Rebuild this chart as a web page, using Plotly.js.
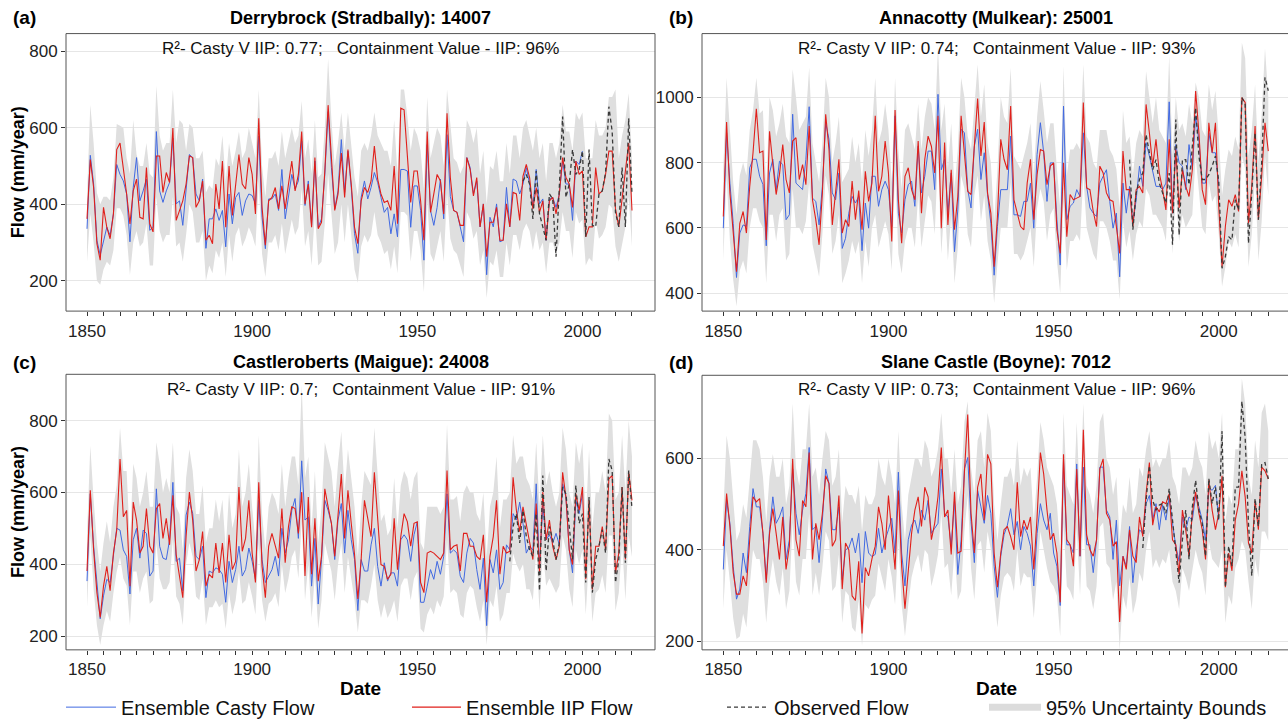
<!DOCTYPE html>
<html><head><meta charset="utf-8">
<script src="https://cdn.plot.ly/plotly-3.0.1.min.js"></script>
<style>html,body{margin:0;padding:0;background:#fff;}#chart{width:1288px;height:727px;}</style>
</head><body><div id="chart"></div>
<script>
const FIRST_YEAR = 1850;
const LAST_YEAR = 2015;
const CASTY_LAST_YEAR = 2000;

// ---------- Panel (a) Derrybrock (Stradbally): 14007 ----------
const iipA = [
362,517,444,297,254,392,340,310,375,543,
560,496,427,349,435,466,366,362,496,349,
328,526,526,431,483,457,599,358,384,409,
453,526,522,392,409,461,306,319,297,453,
388,513,340,500,371,453,530,453,440,522,
478,375,625,392,293,409,418,444,388,448,
388,453,513,435,478,590,401,453,340,522,
336,353,487,659,513,384,427,534,418,543,
453,340,297,409,444,431,461,552,466,427,
405,409,384,500,349,651,647,530,405,487,
487,409,306,590,379,427,478,461,375,638,
470,384,379,345,345,522,491,422,470,341,
401,263,353,353,392,306,306,401,341,431,
427,358,474,504,470,388,444,379,409,306,
409,418,375,427,522,470,453,392,513,478,
487,315,341,341,496,427,435,478,539,539,
388,341,409,478,560,384];
const castyA = [
336,528,453,306,267,306,340,319,375,504,
478,461,427,302,444,522,409,435,466,332,
340,590,435,405,435,457,573,401,409,345,
444,530,522,427,409,466,285,362,362,388,
358,384,289,427,349,418,431,371,409,427,
423,401,578,366,284,414,414,427,384,491,
362,427,478,440,461,565,397,461,345,513,
340,362,478,642,496,388,435,569,431,539,
444,323,272,418,461,414,444,483,457,418,
379,392,323,375,315,491,491,487,340,448,
448,384,254,556,384,345,392,466,362,582,
420,384,379,341,302,522,496,427,461,341,
401,216,366,341,401,302,306,444,341,466,
461,427,453,496,453,392,491,401,414,306,
414,418,392,427,513,453,453,358,513,504,
539];
const hiA = [
420,660,560,430,400,420,420,410,470,610,
605,600,520,480,620,530,500,500,560,480,
470,710,580,540,560,560,700,560,620,610,
540,610,600,520,520,540,430,450,440,520,
500,580,460,560,500,540,590,520,540,600,
560,520,700,500,420,520,520,540,500,590,
520,560,600,560,580,670,520,570,480,620,
470,480,600,780,620,500,560,640,540,640,
560,470,420,540,560,540,580,640,580,560,
540,540,500,620,480,700,700,630,540,600,
580,540,440,680,520,560,600,580,500,700,
600,520,510,480,500,620,600,560,600,480,
540,400,500,490,540,460,460,560,480,580,
580,520,600,620,580,540,600,520,560,460,
560,560,520,560,660,590,590,540,640,620,
640,520,520,520,620,580,580,600,680,680,
700,520,580,620,690,520];
const loA = [
250,375,300,200,190,230,250,240,280,390,
390,370,320,215,300,330,290,300,350,240,
240,420,330,300,320,320,420,290,300,250,
320,400,380,300,300,330,200,240,220,280,
260,300,210,320,250,320,340,290,310,340,
320,290,460,270,210,300,300,320,280,350,
270,320,360,320,340,440,290,330,240,380,
240,250,350,480,370,270,300,400,300,400,
320,230,195,290,320,300,320,380,320,300,
270,280,230,290,220,380,380,370,250,330,
330,280,170,410,270,250,290,330,250,430,
310,280,270,240,210,380,360,310,330,240,
280,155,250,240,280,210,210,300,240,320,
320,280,330,350,330,280,330,280,300,220,
300,300,270,300,380,330,330,260,380,350,
360,240,260,250,360,310,320,340,400,390,
290,250,300,340,420,290];
const obsStartA = 1982;
const obsA = [
461,478,453,362,487,375,341,306,427,414,
263,444,629,418,453,543,478,491,539,315,
543,345,341,427,435,483,655,590,379,341,
496,341,625,427];

// ---------- Panel (b) Annacotty (Mulkear): 25001 ----------
const iipB = [
635,924,707,584,466,614,650,584,727,830,
965,830,835,563,896,794,702,763,855,748,
707,866,876,748,794,732,912,686,625,548,
707,948,840,609,707,810,584,625,604,743,
625,714,594,773,681,
737,943,712,758,866,
768,558,961,686,553,758,784,717,686,866,
645,810,881,850,768,943,599,861,609,778,
594,696,943,830,712,702,850,996,820,924,
707,645,481,635,871,810,778,973,686,645,
604,594,737,810,625,763,840,835,732,789,
799,594,522,
799,573,702,686,691,696,984,
722,717,650,604,789,768,707,686,681,604,
522,835,717,717,604,717,727,707,978,891,
789,871,768,717,655,871,645,840,661,778,
727,696,778,1019,891,717,671,922,830,922,
666,481,604,686,666,702,650,999,984,614,
727,912,625,760,922,835];
const castyB = [
599,891,737,614,448,584,609,604,784,810,
810,758,733,545,768,810,717,804,794,625,
640,948,737,727,717,810,971,691,681,609,
727,922,871,707,686,768,537,568,645,696,
676,696,530,676,599,
758,758,666,717,743,
717,604,943,645,584,686,732,743,666,850,
707,758,835,835,717,1009,778,810,645,768,
527,655,902,891,717,661,850,902,748,830,
702,614,455,604,717,717,717,881,640,640,
635,681,681,737,599,825,922,830,681,799,
799,625,486,
973,625,666,676,717,696,891,
727,661,645,635,737,758,778,681,599,645,
450,737,645,727,614,686,789,727,861,820,
768,727,727,717,737,986,645,855,799,789,
717,855,778,943,866,737,737,891,830,830,
727];
const hiB = [
780,1060,900,740,640,760,800,760,900,960,
1060,950,960,720,1000,960,880,920,980,880,
860,1086,1000,900,920,940,1091,860,800,740,
860,1060,1000,800,860,940,740,760,780,880,
800,860,740,900,820,
900,1060,860,900,980,
900,740,1060,840,720,900,920,880,840,980,
840,940,1000,980,900,1158,900,980,780,920,
720,840,1060,1000,880,840,980,1100,940,1040,
860,800,620,780,1000,940,920,1090,820,800,
780,820,860,920,760,940,1050,960,860,920,
920,780,660,
1096,760,840,840,860,840,1100,
880,860,800,780,900,900,900,840,820,780,
660,960,860,880,760,860,900,880,1080,1000,
920,1000,900,880,860,1127,820,1000,900,920,
880,980,920,1045,1000,900,880,1040,960,1020,
880,700,780,840,820,880,840,1168,1120,820,
900,1040,800,950,1150,1000];
const loB = [
500,760,560,440,360,470,500,460,600,660,
660,620,600,430,640,640,560,640,660,500,
520,720,600,600,580,620,740,550,500,450,
580,760,700,520,560,640,430,460,500,560,
520,560,430,560,480,
600,640,540,580,620,
580,470,780,520,460,560,600,600,540,700,
540,620,700,680,580,820,520,680,500,640,
430,540,760,720,580,540,700,760,620,700,
560,500,370,490,600,600,600,740,520,520,
500,520,560,600,480,660,720,680,560,640,
660,500,400,
680,470,560,560,580,560,760,
600,560,520,500,620,620,600,560,500,500,
380,620,540,590,500,580,620,600,720,700,
640,640,620,600,560,760,520,700,560,640,
600,620,640,820,720,600,580,740,680,700,
580,420,480,560,540,580,540,820,780,480,
580,760,500,620,820,700];
const obsStartB = 1973;
const obsB = [
809,594,707,748,768,886,830,
778,809,737,707,676,768,548,932,578,809,
809,732,850,968,820,748,748,763,789,820,
743,476,512,573,563,686,655,999,978,553,
707,891,625,800,1061,1020];

// ---------- Panel (c) Castleroberts (Maigue): 24008 ----------
const iipC = [
381,606,440,321,252,339,394,326,431,495,
693,532,550,339,573,523,431,450,555,450,
431,555,569,472,528,454,592,427,367,307,
477,601,523,381,413,491,339,372,362,459,
376,459,349,482,385,408,615,436,472,578,
431,349,628,
394,307,450,486,450,417,555,
404,505,560,555,486,601,367,587,372,528,
353,422,610,560,514,422,541,651,472,606,
514,427,303,413,578,532,477,656,523,399,
394,358,372,528,385,477,541,518,450,514,
518,349,321,431,436,431,422,413,431,661,
440,
450,454,381,486,486,450,450,422,413,
482,294,422,477,578,372,450,431,436,642,
550,491,560,514,468,413,569,376,601,468,
523,450,413,450,656,587,440,399,596,550,
615,358,578,330,450,450,505,440,638,647,
376,431,615,413,656,578];
const castyC = [
353,596,450,339,248,312,358,349,422,500,
495,440,422,317,468,500,417,495,486,367,
381,610,450,417,413,468,628,408,417,326,
537,573,541,422,413,450,307,381,376,390,
385,372,294,408,349,385,450,367,385,445,
408,358,578,
413,349,367,385,422,367,500,
431,468,550,583,472,688,523,532,339,472,
289,413,578,550,514,413,523,569,431,550,
468,413,271,413,381,381,454,500,394,339,
404,353,376,376,339,468,482,468,408,482,
518,294,294,339,385,358,408,372,422,596,
431,
440,431,367,349,431,472,459,385,330,
417,229,413,376,440,330,349,454,440,541,
523,573,514,431,450,440,624,394,564,468,
482,459,486,454,624,587,440,376,578,541,
596];
const hiC = [
480,730,580,460,380,460,520,460,560,620,
780,660,660,460,680,640,560,600,660,560,
560,740,680,600,640,600,740,560,540,440,
640,720,660,540,540,620,460,500,500,580,
520,580,440,600,500,540,720,560,600,680,
560,460,760,
540,440,560,600,580,540,680,
560,640,700,700,620,900,640,700,500,660,
460,560,740,700,660,560,680,770,600,720,
640,560,420,560,660,640,620,780,640,520,
540,480,500,640,500,620,660,640,580,640,
660,460,440,560,560,560,560,540,560,790,
580,580,590,520,600,620,600,600,540,520,
600,420,560,600,700,500,580,580,600,760,
680,700,700,640,620,580,740,560,760,620,
660,600,560,600,780,720,600,560,740,680,
740,520,720,500,600,600,660,600,820,800,
580,600,760,600,800,700];
const loC = [
280,480,330,230,175,230,270,240,320,380,
420,360,340,230,380,380,320,360,380,290,
300,460,360,330,330,350,470,310,290,230,
400,460,420,310,300,360,230,280,280,300,
280,290,220,320,260,300,380,290,300,350,
310,260,460,
300,240,290,300,320,280,400,
320,360,420,440,360,520,300,400,250,370,
220,300,460,420,380,300,400,460,320,420,
360,300,210,300,300,290,340,400,300,250,
290,250,270,300,240,340,360,360,300,360,
380,220,210,260,280,260,300,280,310,470,
320,330,320,260,250,320,340,330,280,240,
300,175,300,280,340,240,260,320,320,430,
400,380,400,330,330,300,440,270,440,340,
360,340,320,340,480,440,330,280,440,400,
440,260,420,240,320,330,370,320,480,480,
270,320,460,300,480,420];
const obsStartC = 1978;
const obsC = [
408,505,
541,459,550,477,440,422,541,326,647,381,
505,468,413,459,615,596,505,413,619,514,
541,349,587,321,413,450,496,431,693,661,
349,413,615,404,661,555];

// ---------- Panel (d) Slane Castle (Boyne): 7012 ----------
const iipD = [
408,523,451,350,303,303,343,321,422,516,
505,512,436,328,436,490,436,379,472,357,
408,599,422,386,508,494,613,379,458,422,
480,562,545,408,422,519,314,415,400,299,
289,375,217,361,343,
380,
408,494,458,400,
519,429,357,530,364,271,357,436,487,516,
451,537,516,422,458,516,624,472,487,390,
527,393,397,570,696,480,393,537,566,465,
609,588,393,318,393,444,451,429,400,548,
429,465,444,472,357,472,613,566,487,422,
436,393,285,609,
422,411,364,577,386,663,
433,400,386,422,577,599,480,465,408,418,
242,386,357,444,386,372,472,429,523,591,
454,494,483,505,501,523,422,411,346,487,
444,386,480,527,480,444,379,552,487,444,
480,562,318,393,354,465,501,573,516,415,
393,508,444,581,573,555];
const castyD = [
357,508,458,364,292,314,393,350,451,534,
494,494,436,335,444,516,458,472,494,379,
422,577,480,433,487,523,624,444,451,372,
465,577,545,444,444,494,335,400,404,426,
393,436,328,440,393,
385,
390,447,393,422,
444,469,393,570,393,321,422,454,465,436,
487,465,508,436,447,458,577,480,472,408,
508,346,422,577,602,462,372,530,494,458,
519,480,364,296,386,433,454,490,433,462,
400,451,436,408,321,436,501,465,444,480,
393,364,278,595,
411,411,393,588,386,581,
411,411,350,422,581,581,487,472,379,465,
321,386,364,451,328,400,444,436,501,519,
465,501,444,498,465,516,458,408,375,472,
444,472,465,519,494,465,422,537,530,541,
465];
const hiD = [
480,650,600,500,420,440,500,470,560,640,
640,620,560,460,560,610,560,560,600,500,
540,720,580,540,620,620,720,560,580,520,
600,660,640,540,560,620,460,540,520,520,
500,540,440,520,500,
500,
520,600,560,540,
600,560,500,660,500,420,520,560,600,600,
580,640,620,560,580,620,700,600,600,520,
620,500,540,680,725,580,520,640,660,580,
700,660,500,420,500,560,560,580,540,640,
540,580,560,580,460,560,680,640,580,560,
540,500,400,700,
540,520,500,680,500,720,
540,520,480,540,680,700,600,580,520,560,
420,500,480,560,480,500,580,560,620,660,
580,600,580,600,600,640,560,540,500,580,
580,560,580,640,600,580,520,660,620,640,
600,700,460,520,500,620,620,775,720,560,
520,640,580,700,720,660];
const loD = [
270,400,330,250,205,210,260,230,320,400,
380,380,330,240,330,380,330,300,360,270,
310,460,330,300,380,380,480,300,350,300,
360,440,420,310,320,390,240,310,300,230,
220,290,190,280,270,
290,
300,370,340,310,
380,340,280,420,280,210,280,340,370,390,
350,400,390,320,350,390,480,360,370,300,
400,290,310,440,520,360,290,410,420,350,
440,400,300,230,300,340,350,340,310,400,
320,350,340,340,250,350,440,400,360,330,
320,300,210,460,
320,310,290,450,300,470,
320,310,270,320,450,460,370,360,290,330,
180,300,270,340,260,290,350,330,400,440,
360,380,360,380,370,400,330,310,270,360,
340,310,360,400,370,350,300,420,380,370,
360,400,240,300,280,360,380,420,400,330,
270,380,340,440,440,420];
const obsStartD = 1977;
const obsD = [
404,508,584,
508,487,498,501,480,534,465,393,328,422,
487,379,494,552,487,458,386,556,501,537,
465,660,318,408,364,537,537,725,645,458,
343,512,451,588,591,555];

// ---------- Text ----------
const panelLetters = ['(a)','(b)','(c)','(d)'];
const panelTitles = ['Derrybrock (Stradbally): 14007','Annacotty (Mulkear): 25001','Castleroberts (Maigue): 24008','Slane Castle (Boyne): 7012'];
const r2Values = ['0.77','0.74','0.7','0.73'];
const containment = ['96%','93%','91%','96%'];
const seriesNames = ['Ensemble Casty Flow','Ensemble IIP Flow','Observed Flow','95% Uncertainty Bounds'];
const xTickVals = [1850,1900,1950,2000];
const xTickLabels = ['1850','1900','1950','2000'];

// ---------- helpers ----------
function yearsFrom(start, n){ const a=[]; for(let i=0;i<n;i++) a.push(start+i); return a; }
const nAll = LAST_YEAR-FIRST_YEAR+1, nCasty = CASTY_LAST_YEAR-FIRST_YEAR+1;
const panels = [
 {iip:iipA,casty:castyA,hi:hiA,lo:loA,obs:obsA,obsStart:obsStartA},
 {iip:iipB,casty:castyB,hi:hiB,lo:loB,obs:obsB,obsStart:obsStartB},
 {iip:iipC,casty:castyC,hi:hiC,lo:loC,obs:obsC,obsStart:obsStartC},
 {iip:iipD,casty:castyD,hi:hiD,lo:loD,obs:obsD,obsStart:obsStartD}];
panels.forEach((p,i)=>{
  const chk=[['iip',p.iip.length,nAll],['casty',p.casty.length,nCasty],['hi',p.hi.length,nAll],['lo',p.lo.length,nAll],['obs',p.obs.length,LAST_YEAR-p.obsStart+1]];
  chk.forEach(c=>{ if(c[1]!==c[2]) throw new Error('panel '+i+' '+c[0]+' length '+c[1]+' expected '+c[2]); });
});

const W=1288,H=727;
const px=v=>v/W, py=v=>1-v/H;
const geo = [
 {x0:66,x1:655,y0:34,y1:315,yr:[121,846]},
 {x0:702,x1:1290,y0:34,y1:315,yr:[345,1195]},
 {x0:66,x1:655,y0:379,y1:658,yr:[161.5,929]},
 {x0:702,x1:1290,y0:380,y1:658,yr:[181,782]}];
const PXYR = 3.303;
const COL = {casty:'#4169E1', iip:'#E0201B', obs:'#3a3a3a', band:'#DFDFDF'};
const FONT = 'Liberation Sans, Arial, Helvetica, sans-serif';

const minorTicks=[];
for(let y=1855;y<=2015;y+=5){ if(y%50!==0) minorTicks.push(y); }

const data=[]; const layout={
  width:W,height:H,margin:{l:0,r:0,t:0,b:0},paper_bgcolor:'#fff',plot_bgcolor:'#fff',
  font:{family:FONT,color:'#222'}, showlegend:true, annotations:[], shapes:[], hovermode:false
};
panels.forEach((p,i)=>{
  const sfx = i===0?'':String(i+1);
  const xa='x'+sfx, ya='y'+sfx;
  const g=geo[i];
  const d0 = Math.min(g.x1,W);
  const left = 1850-(i%2===0?(87-66):(723.3-702))/PXYR;
  layout['xaxis'+sfx]={domain:[px(g.x0),px(d0)],range:[left,left+(d0-g.x0)/PXYR],anchor:ya,
    tickmode:'array',tickvals:xTickVals,ticktext:xTickLabels,ticks:'outside',ticklen:4,tickcolor:'#333',tickwidth:1,
    minor:{tickmode:'array',tickvals:minorTicks,ticks:'outside',ticklen:4,tickcolor:'#333',tickwidth:1,showgrid:false},
    showgrid:false,zeroline:false,showline:false,tickfont:{size:17,color:'#222'},fixedrange:true};
  layout['yaxis'+sfx]={domain:[py(g.y1),py(g.y0)],range:g.yr,anchor:xa,dtick:200,tick0:0,ticks:'outside',ticklen:4,
    tickcolor:'#333',showgrid:true,gridcolor:'#E6E6E6',gridwidth:1,zeroline:false,showline:false,
    tickfont:{size:17,color:'#222'},fixedrange:true};
  const yrs=yearsFrom(FIRST_YEAR,nAll);
  data.push({type:'scatter',mode:'lines',x:yrs,y:p.lo,xaxis:xa,yaxis:ya,line:{width:0,color:COL.band},showlegend:false,hoverinfo:'skip'});
  data.push({type:'scatter',mode:'lines',x:yrs,y:p.hi,xaxis:xa,yaxis:ya,fill:'tonexty',fillcolor:COL.band,line:{width:0,color:COL.band},showlegend:false,hoverinfo:'skip'});
  data.push({type:'scatter',mode:'lines',name:seriesNames[0],x:yearsFrom(FIRST_YEAR,nCasty),y:p.casty,xaxis:xa,yaxis:ya,line:{color:COL.casty,width:1},showlegend:i===0,legend:'legend'});
  data.push({type:'scatter',mode:'lines',name:seriesNames[1],x:yrs,y:p.iip,xaxis:xa,yaxis:ya,line:{color:COL.iip,width:1.1},showlegend:i===0,legend:'legend2'});
  data.push({type:'scatter',mode:'lines',name:seriesNames[2],x:yearsFrom(p.obsStart,p.obs.length),y:p.obs,xaxis:xa,yaxis:ya,line:{color:COL.obs,width:1.3,dash:'4px,3px'},showlegend:i===0,legend:'legend3'});
  layout.shapes.push({type:'rect',xref:'paper',yref:'paper',x0:px(g.x0),x1:px(g.x1),y0:py(g.y1),y1:py(g.y0),line:{color:'#555',width:1},fillcolor:'rgba(0,0,0,0)',layer:'above'});
  const cx = px((g.x0+Math.min(g.x1,1290))/2);
  const topY = i<2?18:367, statY = i<2?49:394;
  layout.annotations.push({text:'<b>'+panelLetters[i]+'</b>',xref:'paper',yref:'paper',x:px(i%2===0?11:667),y:py(topY),xanchor:'left',yanchor:'middle',showarrow:false,font:{size:19,color:'#000'}});
  layout.annotations.push({text:'<b>'+panelTitles[i]+'</b>',xref:'paper',yref:'paper',x:cx,y:py(topY),xanchor:'center',yanchor:'middle',showarrow:false,font:{size:18,color:'#000'}});
  layout.annotations.push({text:'R\u00B2- Casty V IIP: '+r2Values[i]+';\u00A0\u00A0\u00A0Containment Value - IIP: '+containment[i],xref:'paper',yref:'paper',x:cx,y:py(statY),xanchor:'center',yanchor:'middle',showarrow:false,font:{size:17,color:'#111'}});
  if(i%2===0) layout.annotations.push({text:'<b>Flow (mm/year)</b>',xref:'paper',yref:'paper',x:px(18),y:py((g.y0+g.y1)/2),xanchor:'center',yanchor:'middle',textangle:-90,showarrow:false,font:{size:18,color:'#000'}});
  if(i>=2) layout.annotations.push({text:'<b>Date</b>',xref:'paper',yref:'paper',x:cx,y:py(697),xanchor:'center',yanchor:'middle',showarrow:false,font:{size:19,color:'#000'}});
});
// legend key for the band
data.push({type:'scatter',mode:'lines',name:seriesNames[3],x:[null],y:[null],line:{color:'#DCDCDC',width:7},showlegend:true,legend:'legend4',hoverinfo:'skip'});
const legY = py(716);
const legBase = {y:legY,yanchor:'middle',xanchor:'left',orientation:'h',font:{size:20,color:'#111',family:FONT},bgcolor:'rgba(0,0,0,0)',borderwidth:0,itemclick:false,itemdoubleclick:false};
layout.legend = Object.assign({},legBase,{x:px(61),itemwidth:50});
layout.legend2 = Object.assign({},legBase,{x:px(407),itemwidth:49});
layout.legend3 = Object.assign({},legBase,{x:px(722),itemwidth:42});
layout.legend4 = Object.assign({},legBase,{x:px(984),itemwidth:52});
Plotly.newPlot('chart',data,layout,{displayModeBar:false,staticPlot:true});
</script></body></html>
